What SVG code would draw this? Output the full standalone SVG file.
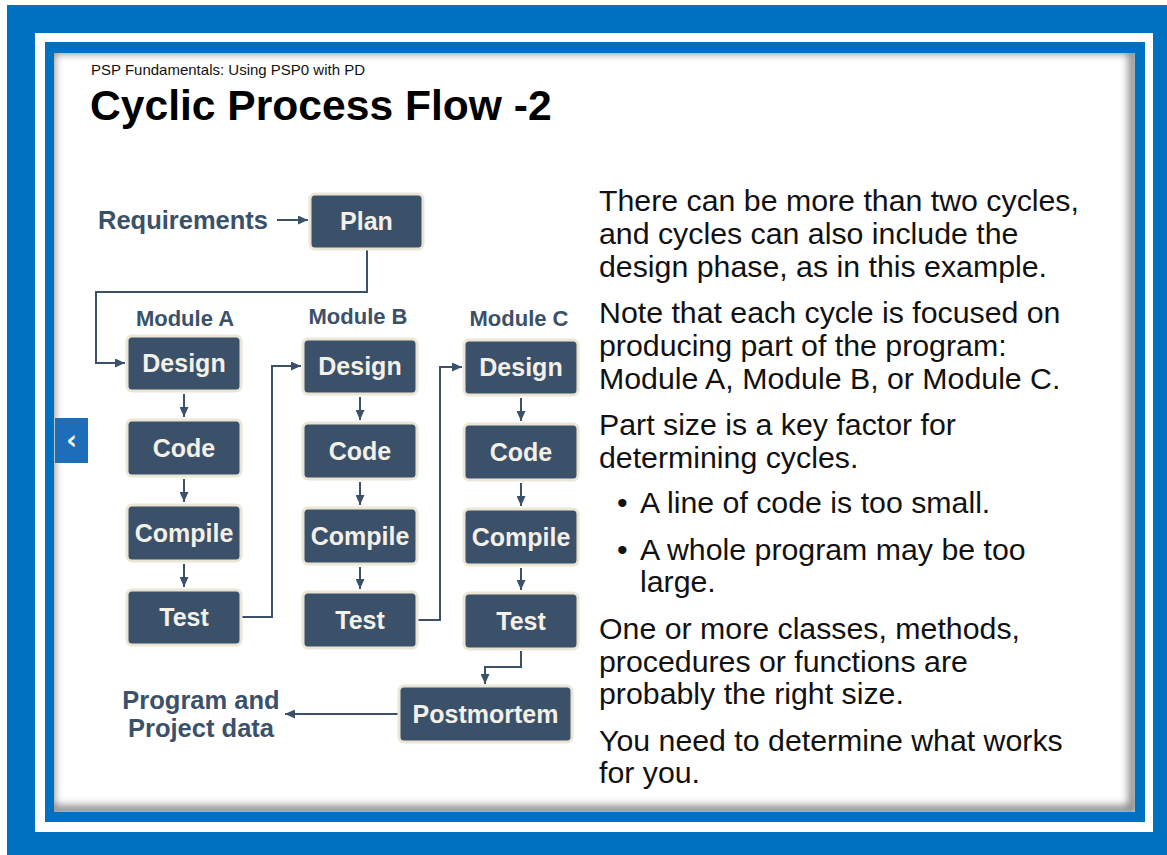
<svg xmlns="http://www.w3.org/2000/svg" width="1167" height="855" viewBox="0 0 1167 855">
<defs>
<style>
.box{fill:#3b5169;stroke:#ebe5d5;stroke-width:3}
.bt{font-family:"Liberation Sans",Arial,sans-serif;font-weight:bold;font-size:25px;fill:#f3f0e8;text-anchor:middle}
.lbl{font-family:"Liberation Sans",Arial,sans-serif;font-weight:bold;fill:#3b5169}
.body{font-family:"Liberation Sans",Arial,sans-serif;font-size:30.3px;fill:#111}
.con{fill:none;stroke:#3b5169;stroke-width:2;marker-end:url(#ah)}
</style>
<marker id="ah" markerUnits="userSpaceOnUse" markerWidth="10" markerHeight="9" refX="10" refY="4.5" orient="auto">
<path d="M0,0 L10,4.5 L0,9 z" fill="#3b5169"/>
</marker>
<clipPath id="cc"><rect x="54" y="53" width="1081" height="759"/></clipPath>
<filter id="blur" x="-5%" y="-5%" width="110%" height="110%"><feGaussianBlur stdDeviation="4"/></filter>
</defs>
<rect x="0" y="0" width="1167" height="855" fill="#fff"/>
<rect x="7" y="5" width="1160" height="850" fill="#0070c0"/>
<rect x="35" y="33" width="1118" height="799" fill="#fff"/>
<rect x="45" y="42" width="1100" height="780" fill="#0070c0"/>
<rect x="54" y="53" width="1081" height="759" fill="#fff"/>
<g clip-path="url(#cc)">
<rect x="50" y="49" width="1083" height="761" fill="none" stroke="#555" stroke-width="8" filter="url(#blur)" opacity="0.8"/>
</g>
<g id="nav">
<rect x="55" y="418" width="33" height="45" fill="#1e6db8"/>
<text x="71.5" y="449" text-anchor="middle" font-family="'DejaVu Sans',sans-serif" font-weight="bold" font-size="26" fill="#fff">‹</text>
</g>
<g id="title">
<text x="91" y="75" font-family="'Liberation Sans',Arial,sans-serif" font-size="15" fill="#111">PSP Fundamentals: Using PSP0 with PD</text>
<text x="90" y="120" font-family="'Liberation Sans',Arial,sans-serif" font-weight="bold" font-size="42.6" fill="#000">Cyclic Process Flow -2</text>
</g>
<g id="connectors">
<path class="con" d="M277 220 H308"/>
<path class="con" d="M367 249 V292 H96 V363 H125"/>
<path class="con" d="M184 394 V417"/>
<path class="con" d="M184 479 V502"/>
<path class="con" d="M184 564 V587"/>
<path class="con" d="M360 397 V420"/>
<path class="con" d="M360 482 V505"/>
<path class="con" d="M360 567 V589"/>
<path class="con" d="M521 398 V421"/>
<path class="con" d="M521 483 V506"/>
<path class="con" d="M521 568 V590"/>
<path class="con" d="M241 617 H272 V366 H301"/>
<path class="con" d="M417 620 H440 V367 H462"/>
<path class="con" d="M521 651 V667 H485 V684"/>
<path class="con" d="M399 714 H285"/>
</g>
<g id="requirements"><text class="lbl" x="98" y="229" font-size="25.5">Requirements</text></g>
<g id="plan"><rect class="box" x="310" y="194" width="113" height="55" rx="5"/><text class="bt" x="366.5" y="230">Plan</text></g>
<g id="moduleA"><text class="lbl" x="185" y="326" font-size="22" text-anchor="middle">Module A</text></g>
<g id="moduleB"><text class="lbl" x="358" y="324" font-size="22" text-anchor="middle">Module B</text></g>
<g id="moduleC"><text class="lbl" x="519" y="326" font-size="22" text-anchor="middle">Module C</text></g>
<g id="designA"><rect class="box" x="127" y="336" width="114" height="55" rx="5"/><text class="bt" x="184" y="372">Design</text></g>
<g id="codeA"><rect class="box" x="127" y="420" width="114" height="56" rx="5"/><text class="bt" x="184" y="457">Code</text></g>
<g id="compileA"><rect class="box" x="127" y="505" width="114" height="56" rx="5"/><text class="bt" x="184" y="542">Compile</text></g>
<g id="testA"><rect class="box" x="127" y="590" width="114" height="55" rx="5"/><text class="bt" x="184" y="626">Test</text></g>
<g id="designB"><rect class="box" x="303" y="339" width="114" height="55" rx="5"/><text class="bt" x="360" y="375">Design</text></g>
<g id="codeB"><rect class="box" x="303" y="423" width="114" height="56" rx="5"/><text class="bt" x="360" y="460">Code</text></g>
<g id="compileB"><rect class="box" x="303" y="508" width="114" height="56" rx="5"/><text class="bt" x="360" y="545">Compile</text></g>
<g id="testB"><rect class="box" x="303" y="592" width="114" height="56" rx="5"/><text class="bt" x="360" y="629">Test</text></g>
<g id="designC"><rect class="box" x="464" y="340" width="114" height="55" rx="5"/><text class="bt" x="521" y="376">Design</text></g>
<g id="codeC"><rect class="box" x="464" y="424" width="114" height="56" rx="5"/><text class="bt" x="521" y="461">Code</text></g>
<g id="compileC"><rect class="box" x="464" y="509" width="114" height="56" rx="5"/><text class="bt" x="521" y="546">Compile</text></g>
<g id="testC"><rect class="box" x="464" y="593" width="114" height="56" rx="5"/><text class="bt" x="521" y="630">Test</text></g>
<g id="postmortem"><rect class="box" x="399" y="686" width="173" height="56" rx="5"/><text class="bt" x="485.5" y="723">Postmortem</text></g>
<g id="programdata"><text class="lbl" font-size="25.5" text-anchor="middle"><tspan x="201" y="709">Program and</tspan><tspan x="201" y="737">Project data</tspan></text></g>
<g id="bodytext">
<text class="body" x="599" y="211">There can be more than two cycles,</text>
<text class="body" x="599" y="244">and cycles can also include the</text>
<text class="body" x="599" y="277">design phase, as in this example.</text>
<text class="body" x="599" y="323">Note that each cycle is focused on</text>
<text class="body" x="599" y="356">producing part of the program:</text>
<text class="body" x="599" y="389">Module A, Module B, or Module C.</text>
<text class="body" x="599" y="435">Part size is a key factor for</text>
<text class="body" x="599" y="468">determining cycles.</text>
<text class="body" x="617" y="513">•</text><text class="body" x="640" y="513">A line of code is too small.</text>
<text class="body" x="617" y="560">•</text><text class="body" x="640" y="560">A whole program may be too</text>
<text class="body" x="640" y="592">large.</text>
<text class="body" x="599" y="639">One or more classes, methods,</text>
<text class="body" x="599" y="672">procedures or functions are</text>
<text class="body" x="599" y="704">probably the right size.</text>
<text class="body" x="599" y="751">You need to determine what works</text>
<text class="body" x="599" y="783">for you.</text>
</g>
</svg>
